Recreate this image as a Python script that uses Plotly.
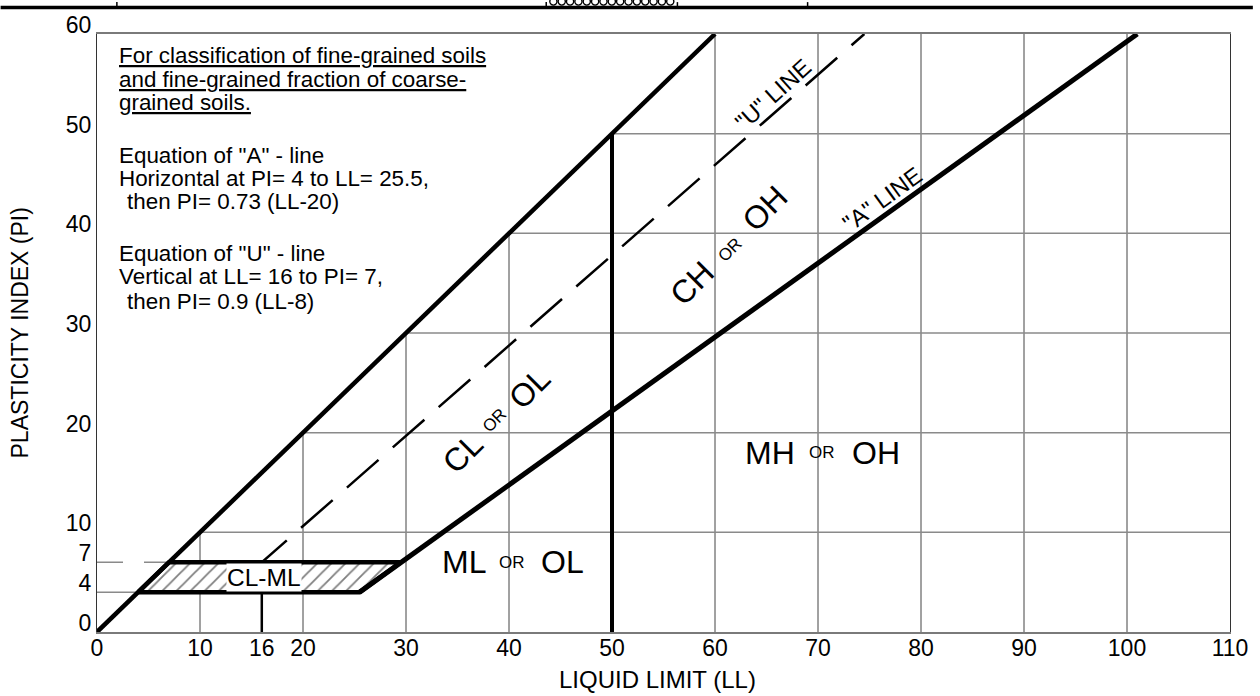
import plotly.graph_objects as go

# ---------------- data ----------------
ll_ticks = [0, 10, 16, 20, 30, 40, 50, 60, 70, 80, 90, 100, 110]
pi_ticks = [0, 4, 7, 10, 20, 30, 40, 50, 60]
ll_grid = [10, 20, 30, 40, 50, 60, 70, 80, 90, 100]
pi_grid = [10, 20, 30, 40, 50]

upper_ll = [0, 60]          # PI = LL upper limit
upper_pi = [0, 60]
a_line_ll = [25.5, 101]     # "A" line
a_line_pi = [4, 60]
u_line_ll = [16, 16, 74.5]  # "U" line
u_line_pi = [0, 7, 60]
ll50_ll = [50, 50]          # LL = 50 boundary
ll50_pi = [0, 50]
clml_ll = [4, 25.5, 29.5, 7, 4]   # CL-ML zone
clml_pi = [4, 4, 7, 7, 4]
lead4_ll = [0, 4]
lead4_pi = [4, 4]
lead7_ll = [0, 7]
lead7_pi = [7, 7]

note_lines = [
    "<u>For classification of fine-grained soils</u>",
    "<u>and fine-grained fraction of coarse-</u>",
    "<u>grained soils.</u>",
    'Equation of "A" - line',
    "Horizontal at PI= 4 to LL= 25.5,",
    "then PI= 0.73 (LL-20)",
    'Equation of "U" - line',
    "Vertical at LL= 16 to PI= 7,",
    "then PI= 0.9 (LL-8)",
]

FONT = "Liberation Sans, Arial, sans-serif"
W, H = 1260, 696
ML_, MR_, MT_, MB_ = 97, 23, 32, 64
PW, PH = W - ML_ - MR_, H - MT_ - MB_


def px_x(p):
    return (p - ML_) / PW


def px_y(p):
    return (H - MB_ - p) / PH


X_MAX = ll_ticks[-1]
Y_MAX = pi_ticks[-1]

fig = go.Figure()

# vertical grid, clipped under the PI = LL line
gx, gy = [], []
for v in ll_grid:
    gx += [v, v, None]
    gy += [0, min(v, Y_MAX), None]
fig.add_trace(go.Scatter(x=gx, y=gy, mode="lines",
                         line=dict(color="#444444", width=1), hoverinfo="skip"))
# horizontal grid, clipped right of the PI = LL line
hx, hy = [], []
for h in pi_grid:
    hx += [h, X_MAX, None]
    hy += [h, h, None]
fig.add_trace(go.Scatter(x=hx, y=hy, mode="lines",
                         line=dict(color="#8a8a8a", width=1.5), hoverinfo="skip"))
fig.add_trace(go.Scatter(x=lead4_ll, y=lead4_pi, mode="lines",
                         line=dict(color="#8a8a8a", width=1.5), hoverinfo="skip"))
fig.add_trace(go.Scatter(x=lead7_ll, y=lead7_pi, mode="lines",
                         line=dict(color="#8a8a8a", width=1.5, dash="26px,21px"),
                         hoverinfo="skip"))

# CL-ML hatched zone
fig.add_trace(go.Scatter(x=clml_ll, y=clml_pi, mode="lines", fill="toself",
                         fillcolor="white",
                         fillpattern=dict(shape="/", size=10, solidity=0.18,
                                          fgcolor="black", bgcolor="white"),
                         line=dict(color="black", width=4.5), hoverinfo="skip"))

# U line (dashed)
fig.add_trace(go.Scatter(x=u_line_ll, y=u_line_pi, mode="lines",
                         line=dict(color="black", width=2.5, dash="42px,19px"),
                         hoverinfo="skip"))
# thick boundaries
fig.add_trace(go.Scatter(x=upper_ll, y=upper_pi, mode="lines",
                         line=dict(color="black", width=4.5), hoverinfo="skip"))
fig.add_trace(go.Scatter(x=a_line_ll, y=a_line_pi, mode="lines",
                         line=dict(color="black", width=5), hoverinfo="skip"))
fig.add_trace(go.Scatter(x=ll50_ll, y=ll50_pi, mode="lines",
                         line=dict(color="black", width=4), hoverinfo="skip"))

ann = []


def label(text, x, y, size, angle=0, **kw):
    d = dict(text=text, x=x, y=y, xref="x", yref="y", showarrow=False,
             textangle=angle, font=dict(family=FONT, size=size, color="black"),
             xanchor="center", yanchor="middle")
    d.update(kw)
    ann.append(d)


BIG, SMALL = 32, 17
# ML or OL
label("ML", 35.6, 7.0, BIG)
label("OR", 40.3, 7.0, SMALL)
label("OL", 45.2, 7.0, BIG)
# MH or OH
label("MH", 65.3, 18.0, BIG)
label("OR", 70.4, 18.0, SMALL)
label("OH", 75.6, 18.0, BIG)
# CL or OL
label("CL", 35.5, 18.0, BIG, -45)
label("OR", 38.6, 21.2, SMALL, -45)
label("OL", 42.0, 24.5, BIG, -45)
# CH or OH
label("CH", 57.8, 35.0, BIG, -45)
label("OR", 61.5, 38.4, SMALL, -45)
label("OH", 64.9, 42.5, BIG, -45)
# line names
label('"U" LINE', 65.6, 53.9, 23.5, -42)
label('"A" LINE', 76.3, 43.4, 23.5, -36)
label("CL-ML", 16.2, 5.5, 24.5, bgcolor="white", borderpad=0)

# notes block
note_x = [1.9, 1.9, 1.9, 1.9, 1.9, 2.7, 1.9, 1.9, 2.7]
note_y = [57.8, 55.45, 53.1, 47.8, 45.47, 43.17, 37.97, 35.67, 33.17]
for t, xx, yy in zip(note_lines, note_x, note_y):
    label(t, xx, yy, 22.4, xanchor="left")

# axis titles
ann.append(dict(text="LIQUID LIMIT (LL)", x=0.5, y=px_y(680), xref="paper",
                yref="paper", showarrow=False, xshift=-6,
                font=dict(family=FONT, size=24, color="black"),
                xanchor="center", yanchor="middle"))
ann.append(dict(text="PLASTICITY INDEX (PI)", x=px_x(20), y=0.5, xref="paper",
                yref="paper", showarrow=False, textangle=-90,
                font=dict(family=FONT, size=23, color="black"),
                xanchor="center", yanchor="middle"))

# decoration strip of a table header cut off at the top
shapes = [dict(type="line", xref="paper", yref="paper", x0=px_x(0), x1=px_x(W),
               y0=px_y(5.5), y1=px_y(5.5), line=dict(color="black", width=3.5))]
for vx in [117, 549, 681, 812]:
    shapes.append(dict(type="line", xref="paper", yref="paper", x0=px_x(vx), x1=px_x(vx),
                       y0=px_y(0), y1=px_y(5), line=dict(color="black", width=1.5)))
n_dots = 15
for i in range(n_dots):
    cx = 552 + (i + 0.5) * (678 - 552) / n_dots
    shapes.append(dict(type="circle", xref="paper", yref="paper",
                       x0=px_x(cx - 3.6), x1=px_x(cx + 3.6), y0=px_y(3), y1=px_y(-4),
                       line=dict(color="black", width=1.4)))

fig.update_layout(
    width=W, height=H,
    margin=dict(l=ML_, r=MR_, t=MT_, b=MB_),
    paper_bgcolor="white", plot_bgcolor="white",
    showlegend=False,
    annotations=ann, shapes=shapes,
    font=dict(family=FONT, size=22, color="black"),
    xaxis=dict(range=[0, X_MAX], tickvals=ll_ticks, ticktext=[str(v) for v in ll_ticks],
               showgrid=False, zeroline=False, showline=True, linecolor="#7a7a7a",
               linewidth=2, mirror=True, ticks="", ticklabelstandoff=-6,
               tickfont=dict(size=23, family=FONT)),
    yaxis=dict(range=[0, Y_MAX], tickvals=pi_ticks, ticktext=[str(v) for v in pi_ticks],
               showgrid=False, zeroline=False, showline=True, linecolor="#333333",
               linewidth=1, mirror=True, ticks="", ticklabelshift=-9,
               tickfont=dict(size=23, family=FONT)),
)

fig.write_html("out.html", config={"displayModeBar": False},
               post_script="document.body.style.margin='0';document.body.style.overflow='hidden';")
